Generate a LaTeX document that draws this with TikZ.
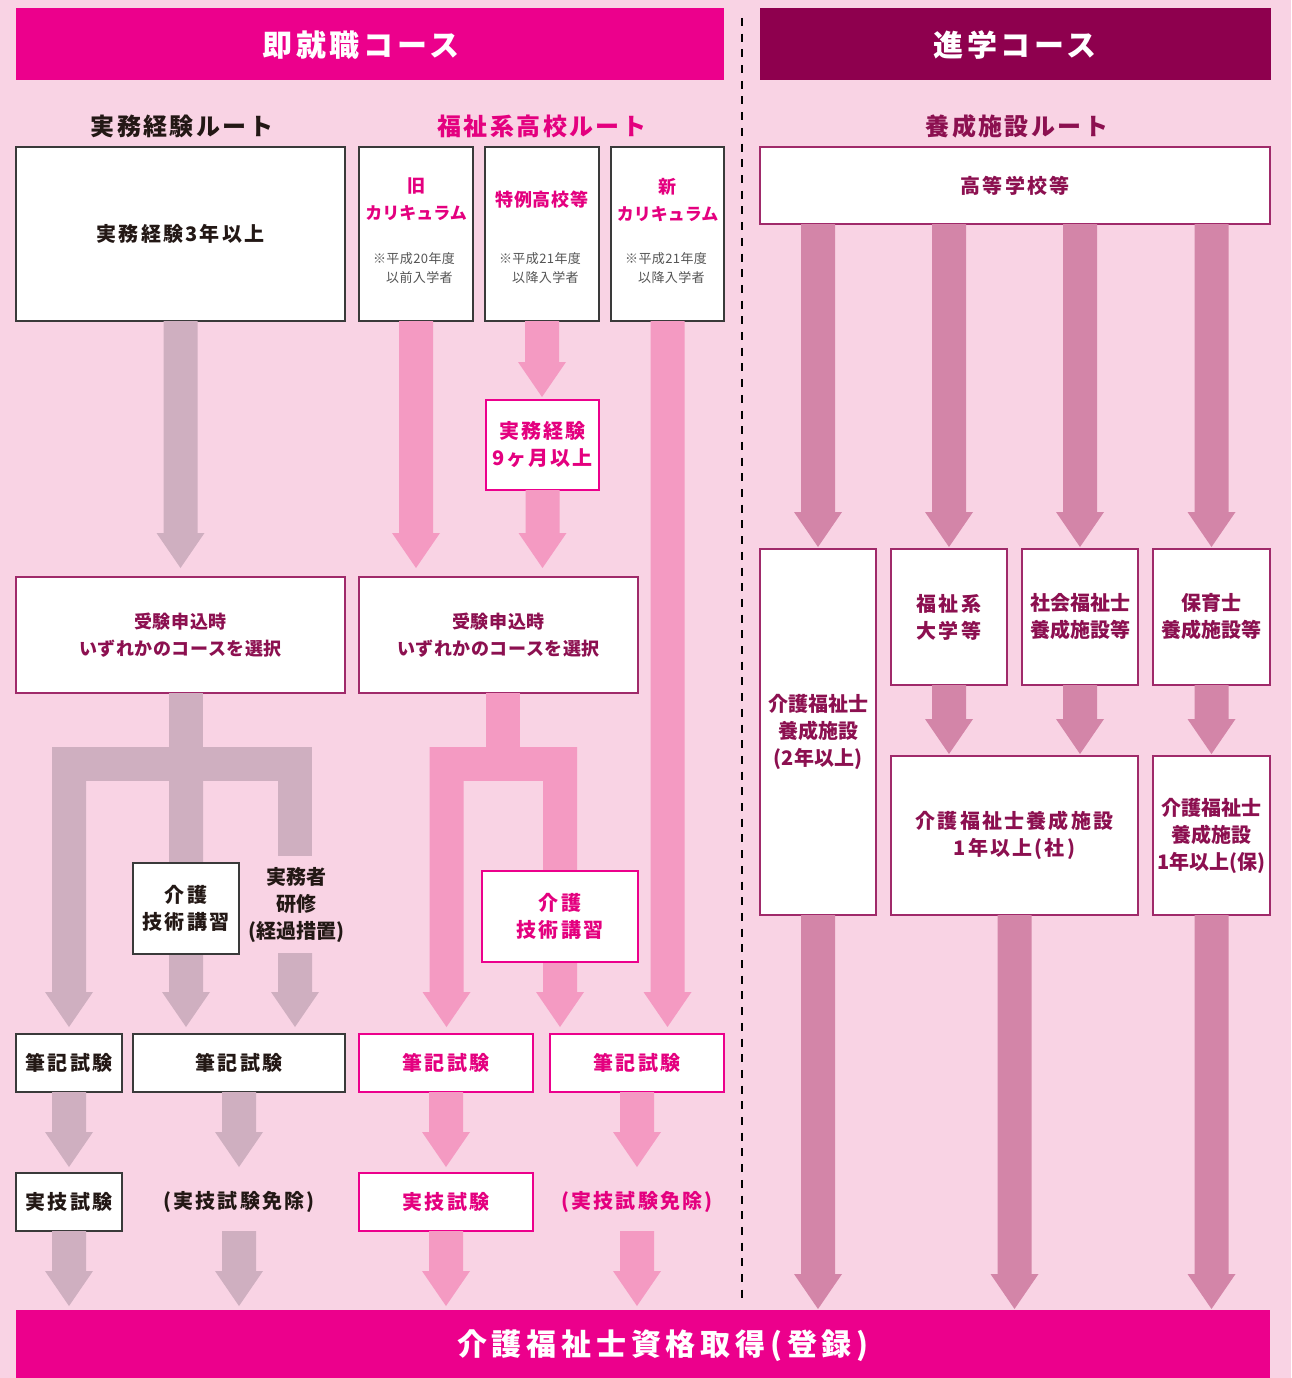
\documentclass[tikz,border=0pt]{standalone}
\usepackage{fontspec}
\setmainfont{Noto Sans CJK JP}
\newfontfamily\jpban{Noto Sans CJK JP}[LetterSpace=12]
\newfontfamily\jphead{Noto Sans CJK JP}[LetterSpace=10]
\newfontfamily\jpbox{Noto Sans CJK JP}[LetterSpace=11]
\newfontfamily\jpmid{Noto Sans CJK JP}[LetterSpace=3]
\newfontfamily\jpbot{Noto Sans CJK JP}[LetterSpace=16]
\usetikzlibrary{calc}
\definecolor{bg}{HTML}{F9D3E4}
\definecolor{magbg}{HTML}{EC008C}
\definecolor{plumbg}{HTML}{8E004E}
\definecolor{grayA}{HTML}{CFAFC0}
\definecolor{pinkA}{HTML}{F49AC2}
\definecolor{mauveA}{HTML}{D385A8}
\definecolor{txtdark}{HTML}{231815}
\definecolor{txtmag}{HTML}{E4007F}
\definecolor{txtplum}{HTML}{8C1050}
\definecolor{graybd}{HTML}{3A3A3A}
\definecolor{magbd}{HTML}{EC008C}
\definecolor{plumbd}{HTML}{A02A6A}
\definecolor{notegray}{HTML}{555555}
\newcommand\fsBan{\jpban\bfseries\fontsize{30pt}{36pt}\selectfont}
\newcommand\fsHead{\jphead\bfseries\fontsize{24pt}{30pt}\selectfont}
\newcommand\fsBox{\jpbox\bfseries\fontsize{20pt}{27pt}\selectfont}
\newcommand\fsPlain{\bfseries\fontsize{20pt}{27pt}\selectfont}
\newcommand\fsSmallBox{\jpmid\bfseries\fontsize{18pt}{27pt}\selectfont}
\newcommand\fsKata{\bfseries\fontsize{17pt}{27pt}\selectfont}
\newcommand\fsNote{\jpmid\fontsize{13pt}{19pt}\selectfont}
\newcommand\fsBot{\jpbot\bfseries\fontsize{30pt}{36pt}\selectfont}
% fat arrow: colour, source point, tip point (only tip y is used)
\newcommand\fatarr[3]{\fill[#1] let \p1=#2, \p2=#3 in
  (\x1-17pt,\y1) -- (\x1+17pt,\y1) -- (\x1+17pt,\y2+35pt) -- (\x1+24pt,\y2+35pt)
  -- (\x1,\y2) -- (\x1-24pt,\y2+35pt) -- (\x1-17pt,\y2+35pt) -- cycle;}
\tikzset{
  box/.style={draw, fill=white, line width=1.3pt, inner sep=0pt, outer sep=0pt,
    anchor=north west, align=center},
  gbox/.style={box, draw=graybd, text=txtdark, font=\fsBox},
  mbox/.style={box, draw=magbd, text=txtmag, font=\fsBox},
  pbox/.style={box, draw=plumbd, text=txtplum, font=\fsBox},
  banner/.style={inner sep=0pt, outer sep=0pt, anchor=north west},
  lbl/.style={inner sep=0pt, align=center},
  note/.style={inner sep=0pt, align=left, text=notegray, font=\fsNote},
  sep/.style={draw=black, line width=2.4pt, dash pattern=on 8pt off 7.7pt},
}
\begin{document}
\begin{tikzpicture}[x=1pt,y=-1pt]
\useasboundingbox (0,0) rectangle (1291,1378);
\fill[bg] (0,0) rectangle (1291,1378);

% banners
\node[banner, fill=magbg, minimum width=708pt, minimum height=72pt] (banL) at (16,8) {};
\node[banner, fill=plumbg, minimum width=511pt, minimum height=72pt] (banR) at (760,8) {};
\node[banner, fill=magbg, minimum width=1254pt, minimum height=68pt] (bot) at (16,1310) {};
\node[lbl, text=white, font=\fsBan] (tL) at (361,45) {即就職コース};
\node[lbl, text=white, font=\fsBan] (tR) at (1015,45) {進学コース};
\node[lbl, text=white, font=\fsBot] (tBot) at (663,1346) {介護福祉士資格取得(登録)};

% separator
\coordinate (sepA) at (742,18);
\coordinate (sepB) at (742,1298);
\draw[sep] (sepA) -- (sepB);

% headings
\node[lbl, text=txtdark, font=\fsHead] (h1) at (182,126) {実務経験ルート};
\node[lbl, text=txtmag, font=\fsHead] (h2) at (542,126) {福祉系高校ルート};
\node[lbl, text=txtplum, font=\fsHead] (h3) at (1017,126) {養成施設ルート};

% tree coordinates
\coordinate (gL) at (69,747);
\coordinate (gM) at (186,747);
\coordinate (gR) at (295,953);
\coordinate (pL) at (446.5,747);
\coordinate (pR) at (560,747);

% ---------- boxes ----------
\node[gbox, minimum width=329pt, minimum height=174pt] (b1) at (16,147) {実務経験3年以上};
\node[gbox, minimum width=114pt, minimum height=174pt] (bOld) at (359,147) {};
\node[gbox, minimum width=114pt, minimum height=174pt] (bTok) at (485,147) {};
\node[gbox, minimum width=113pt, minimum height=174pt] (bNew) at (611,147) {};
\node[mbox, minimum width=113pt, minimum height=90pt] (b9) at (486,400) {実務経験\\9ヶ月以上};
\node[pbox, font=\fsSmallBox, minimum width=329pt, minimum height=116pt] (bJL) at (16,577) {受験申込時\\いずれかのコースを選択};
\node[pbox, font=\fsSmallBox, minimum width=279pt, minimum height=116pt] (bJR) at (359,577) {受験申込時\\いずれかのコースを選択};
\node[pbox, minimum width=510pt, minimum height=77pt] (hs) at (760,147) {高等学校等};
\node[pbox, minimum width=116pt, minimum height=136pt] (r2) at (891,549) {福祉系\\大学等};
\node[pbox, font=\fsPlain, minimum width=116pt, minimum height=136pt] (r3) at (1022,549) {社会福祉士\\養成施設等};
\node[pbox, font=\fsPlain, minimum width=117pt, minimum height=136pt] (r4) at (1153,549) {保育士\\養成施設等};
\node[pbox, font=\fsPlain, minimum width=116pt, minimum height=366pt] (r1) at (760,549) {介護福祉士\\養成施設\\(2年以上)};
\node[pbox, minimum width=247pt, minimum height=159pt] (r5) at (891,756) {介護福祉士養成施設\\1年以上(社)};
\node[pbox, font=\fsPlain, minimum width=117pt, minimum height=159pt] (r6) at (1153,756) {介護福祉士\\養成施設\\1年以上(保)};
\node[gbox, minimum width=106pt, minimum height=58pt] (f1) at (16,1034) {筆記試験};
\node[gbox, minimum width=212pt, minimum height=58pt] (f2) at (133,1034) {筆記試験};
\node[mbox, minimum width=174pt, minimum height=58pt] (f3) at (359,1034) {筆記試験};
\node[mbox, minimum width=174pt, minimum height=58pt] (f4) at (550,1034) {筆記試験};
\node[gbox, minimum width=106pt, minimum height=58pt] (j1) at (16,1173) {実技試験};
\node[mbox, minimum width=174pt, minimum height=58pt] (j3) at (359,1173) {実技試験};

% ---------- arrows ----------
% grey route
\fatarr{grayA}{(b1.south)}{($(bJL.north)+(0,-9)$)}
\fill[grayA] (169,693) rectangle (203,747);
\fill[grayA] (52,747) rectangle (312,781);
\fatarr{grayA}{(gL)}{($(f1.north)+(0,-7)$)}
\fatarr{grayA}{(gM)}{($(f2.north)+(0,-7)$)}
\fill[grayA] (278,780) rectangle (312,856);
\fatarr{grayA}{(gR)}{($(f2.north)+(0,-7)$)}
\fatarr{grayA}{(f1.south)}{($(j1.north)+(0,-6)$)}
\fatarr{grayA}{(f2.south)}{($(j1.north)+(0,-6)$)}
\fatarr{grayA}{(j1.south)}{($(bot.north)+(0,-4)$)}
\coordinate (gFree) at (239,1231);
\fatarr{grayA}{(gFree)}{($(bot.north)+(0,-4)$)}
% pink route
\fatarr{pinkA}{(bOld.south)}{($(bJR.north)+(0,-9)$)}
\fatarr{pinkA}{(bTok.south)}{($(b9.north)+(0,-3)$)}
\fatarr{pinkA}{(b9.south)}{($(bJR.north)+(0,-9)$)}
\fatarr{pinkA}{(bNew.south)}{($(f4.north)+(0,-7)$)}
\fill[pinkA] (486,693) rectangle (520,747);
\fill[pinkA] (429.5,747) rectangle (577,781);
\fatarr{pinkA}{(pL)}{($(f3.north)+(0,-7)$)}
\fatarr{pinkA}{(pR)}{($(f4.north)+(0,-7)$)}
\fatarr{pinkA}{(f3.south)}{($(j3.north)+(0,-6)$)}
\fatarr{pinkA}{(f4.south)}{($(j3.north)+(0,-6)$)}
\fatarr{pinkA}{(j3.south)}{($(bot.north)+(0,-4)$)}
\coordinate (pFree) at (637,1231);
\fatarr{pinkA}{(pFree)}{($(bot.north)+(0,-4)$)}
% mauve route
\fatarr{mauveA}{(hs.south -| r1.north)}{($(r1.north)+(0,-2)$)}
\fatarr{mauveA}{(hs.south -| r2.north)}{($(r2.north)+(0,-2)$)}
\fatarr{mauveA}{(hs.south -| r3.north)}{($(r3.north)+(0,-2)$)}
\fatarr{mauveA}{(hs.south -| r4.north)}{($(r4.north)+(0,-2)$)}
\fatarr{mauveA}{(r2.south)}{($(r5.north)+(0,-2)$)}
\fatarr{mauveA}{(r3.south)}{($(r5.north)+(0,-2)$)}
\fatarr{mauveA}{(r4.south)}{($(r6.north)+(0,-2)$)}
\fatarr{mauveA}{(r1.south)}{($(bot.north)+(0,-1)$)}
\fatarr{mauveA}{(r5.south)}{($(bot.north)+(0,-1)$)}
\fatarr{mauveA}{(r6.south)}{($(bot.north)+(0,-1)$)}

% boxes that sit on top of arrows
\node[gbox, minimum width=106pt, minimum height=91pt] (kL) at (133,863) {介護\\技術講習};
\node[mbox, minimum width=156pt, minimum height=91pt] (kR) at (482,871) {介護\\技術講習};

% free labels
\node[lbl, text=txtdark, font=\fsPlain] (jm) at (296,904.5) {実務者\\研修\\(経過措置)};
\node[lbl, text=txtdark, font=\fsBox] (ex1) at (239,1202) {(実技試験免除)};
\node[lbl, text=txtmag, font=\fsBox] (ex2) at (637,1202) {(実技試験免除)};

% texts inside the school boxes
\node[lbl, text=txtmag, font=\fsKata] (tOld) at (416,199.5) {{\fontsize{18pt}{27pt}\selectfont 旧}\\カリキュラム};
\node[lbl, text=txtmag, font=\fsSmallBox] (tTok) at (542,200) {特例高校等};
\node[lbl, text=txtmag, font=\fsKata] (tNew) at (667.5,199.5) {{\fontsize{18pt}{27pt}\selectfont 新}\\カリキュラム};
\node[note] (nOld) at (414,268.5) {※平成20年度\\\hspace{1em}以前入学者};
\node[note] (nTok) at (540,268.5) {※平成21年度\\\hspace{1em}以降入学者};
\node[note] (nNew) at (666,268.5) {※平成21年度\\\hspace{1em}以降入学者};
\end{tikzpicture}
\end{document}
